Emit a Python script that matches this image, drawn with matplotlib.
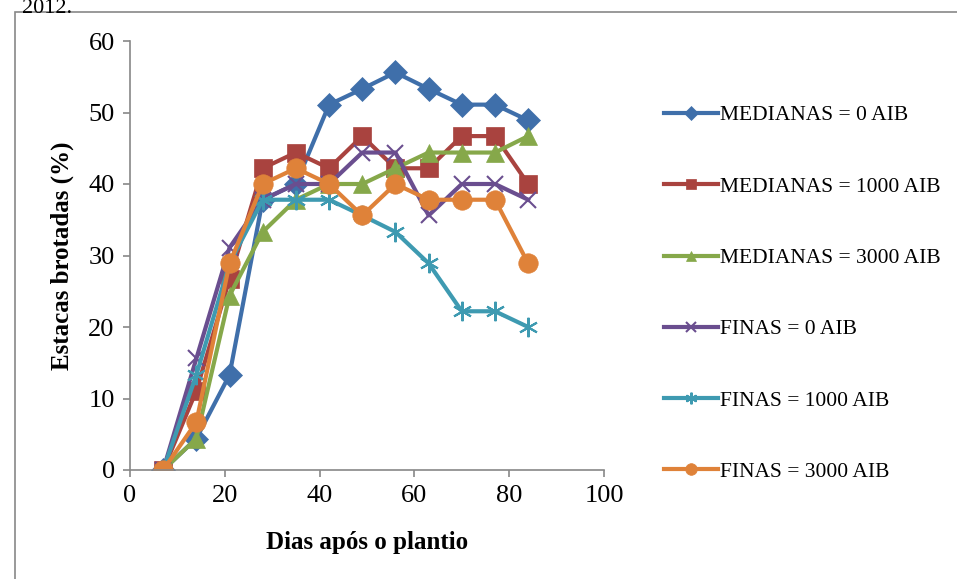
import matplotlib.pyplot as plt
from matplotlib.patches import Rectangle

plt.rcParams['font.family'] = ['Liberation Serif', 'DejaVu Serif']

# dias apos o plantio
dias = [7, 14, 21, 28, 35, 42, 49, 56, 63, 70, 77, 84]

med_0 = [0, 4.4, 13.3, 37.8, 40.0, 51.1, 53.3, 55.6, 53.3, 51.1, 51.1, 48.9]
med_1000 = [0, 11.1, 26.7, 42.2, 44.4, 42.2, 46.7, 42.2, 42.2, 46.7, 46.7, 40.0]
med_3000 = [0, 4.4, 24.4, 33.3, 37.8, 40.0, 40.0, 42.2, 44.4, 44.4, 44.4, 46.7]
fin_0 = [0, 15.6, 31.1, 37.8, 40.0, 40.0, 44.4, 44.4, 35.6, 40.0, 40.0, 37.8]
fin_1000 = [0, 13.3, 28.9, 37.8, 37.8, 37.8, 35.6, 33.3, 28.9, 22.2, 22.2, 20.0]
fin_3000 = [0, 6.7, 28.9, 40.0, 42.2, 40.0, 35.6, 40.0, 37.8, 37.8, 37.8, 28.9]

nomes = ['MEDIANAS = 0 AIB', 'MEDIANAS = 1000 AIB', 'MEDIANAS = 3000 AIB',
         'FINAS = 0 AIB', 'FINAS = 1000 AIB', 'FINAS = 3000 AIB']
series = [med_0, med_1000, med_3000, fin_0, fin_1000, fin_3000]
cores = ['#3F6FAA', '#A9433F', '#86A84A', '#6A4E8F', '#3E9AB1', '#DF8239']
marcas = ['D', 's', '^', 'x', (6, 2, 0), 'o']
tam = [12, 13, 13, 12, 14, 14]

fig = plt.figure(figsize=(9.57, 5.79), dpi=100)
ax = fig.add_axes([130 / 957, 1 - 470 / 579, (604 - 130) / 957, (470 - 41) / 579])

# moldura do grafico (cortada pela figura)
fig.patches.append(Rectangle((15 / 957, -0.1), 1.0, 1 - 12 / 579 + 0.1,
                             transform=fig.transFigure, fill=False,
                             edgecolor='#888888', linewidth=1.2))
fig.text(22 / 957, 1 - 13 / 579, '2012.', fontsize=16, va='baseline')

for y, nome, cor, m, s in zip(series, nomes, cores, marcas, tam):
    ax.plot(dias, y, color=cor, linewidth=3, marker=m, markersize=s,
            markeredgewidth=1.5 if m in ('x', (6, 2, 0)) else 0.5,
            markeredgecolor=cor, label=nome)

ax.set_xlim(0, 100)
ax.set_ylim(0, 60)
ax.set_xticks(range(0, 101, 20))
ax.set_yticks(range(0, 61, 10))
for lado in ['top', 'right']:
    ax.spines[lado].set_visible(False)
for lado in ['left', 'bottom']:
    ax.spines[lado].set_color('#888888')
    ax.spines[lado].set_linewidth(1.2)
ax.tick_params(direction='out', length=5, width=1.2, color='#888888',
               labelsize=19, pad=6)
ax.set_xlabel('Dias após o plantio', fontsize=18, fontweight='bold', labelpad=17)
ax.set_ylabel('Estacas brotadas (%)', fontsize=18, fontweight='bold', labelpad=10)

leg = ax.legend(loc='upper left', bbox_to_anchor=(645 / 957, 1 - 86 / 579),
                bbox_transform=fig.transFigure, frameon=False, fontsize=15.5,
                labelspacing=2.38, handlelength=2.5, handletextpad=0.1,
                markerscale=0.6)

fig.savefig('out.png', dpi=100)
